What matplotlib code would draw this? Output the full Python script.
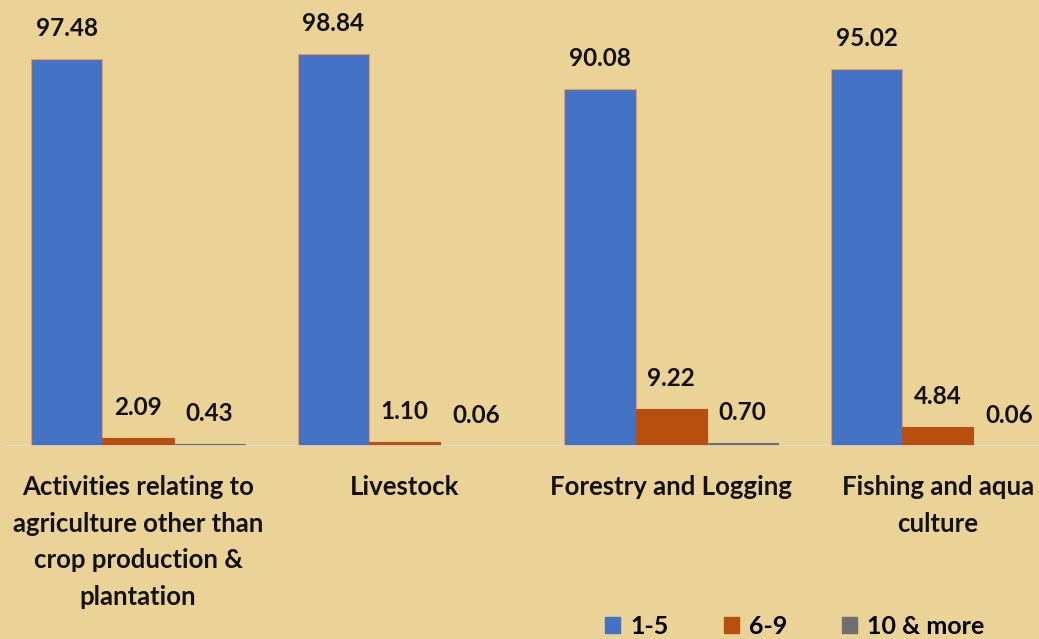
import matplotlib.pyplot as plt
import numpy as np
from matplotlib.patches import Patch

# Data
categories = ['Activities relating to\nagriculture other than\ncrop production &\nplantation',
              'Livestock',
              'Forestry and Logging',
              'Fishing and aqua\nculture']
series_names = ['1-5', '6-9', '10 & more']
vals_1_5 = [97.48, 98.84, 90.08, 95.02]
vals_6_9 = [2.09, 1.10, 9.22, 4.84]
vals_10_more = [0.43, 0.06, 0.70, 0.06]

colors = ['#4472C4', '#B84F0E', '#6F6F6F']
bg = '#EBD397'

plt.rcParams['font.family'] = ['Lato', 'DejaVu Sans']

fig = plt.figure(figsize=(10.39, 6.39), dpi=100)
fig.patch.set_facecolor(bg)
ax = fig.add_axes([0, 193 / 639, 1, 446 / 639])
ax.set_facecolor(bg)

x = np.arange(len(categories))
w = 0.267
all_vals = [vals_1_5, vals_6_9, vals_10_more]
for i, vals in enumerate(all_vals):
    pos = x + (i - 1) * w
    ax.bar(pos, vals, width=w, color=colors[i],
           edgecolor='#F09A50' if i == 0 else colors[i], linewidth=0.8)
    for px, v in zip(pos, vals):
        ax.annotate('{:.2f}'.format(v), (px, v), xytext=(0, 22), textcoords='offset points',
                    ha='center', va='center', fontsize=17.5, fontweight='bold', color='#111111')

ax.set_xlim(-0.518, 3.38)
ax.set_ylim(0, 112.4)
ax.axhline(0, color='#DCDCDC', linewidth=1.2, xmin=0.005)
for s in ax.spines.values():
    s.set_visible(False)
ax.set_yticks([])
ax.set_xticks(x)
ax.set_xticklabels(categories, fontsize=18.5, fontweight='bold', color='#111111', linespacing=1.63)
ax.tick_params(axis='x', length=0, pad=21)

handles = [Patch(facecolor=c, edgecolor=c) for c in colors]
fig.legend(handles, series_names, loc='lower right', bbox_to_anchor=(0.969, -0.033), ncol=3,
           frameon=False, handlelength=0.6, handleheight=0.6, handletextpad=0.4, columnspacing=2.2,
           prop={'size': 18, 'weight': 'bold'})

fig.savefig('out.png', dpi=100, facecolor=bg)
